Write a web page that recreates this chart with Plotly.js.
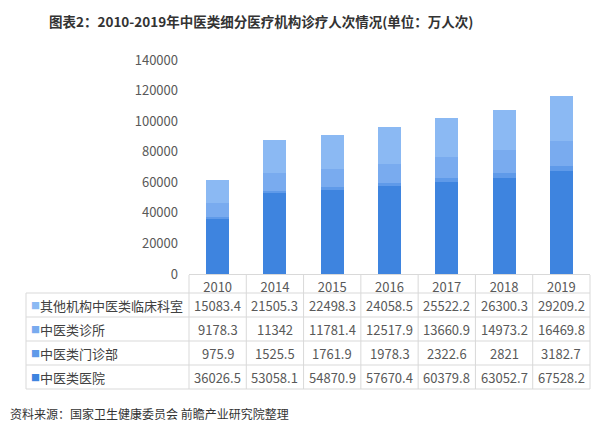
<!DOCTYPE html>
<html>
<head>
<meta charset="utf-8">
<script src="https://cdn.plot.ly/plotly-3.0.1.min.js"></script>
<style>html,body{margin:0;padding:0;background:#fff;}#chart{width:600px;height:434px;}</style>
</head>
<body>
<div id="chart"></div>
<script>
const years = ['2010','2014','2015','2016','2017','2018','2019'];
const seriesNames = ['其他机构中医类临床科室','中医类诊所','中医类门诊部','中医类医院'];
const other = [15083.4, 21505.3, 22498.3, 24058.5, 25522.2, 26300.3, 29209.2];
const clinic = [9178.3, 11342, 11781.4, 12517.9, 13660.9, 14973.2, 16469.8];
const outpatient = [975.9, 1525.5, 1761.9, 1978.3, 2322.6, 2821, 3182.7];
const hospital = [36026.5, 53058.1, 54870.9, 57670.4, 60379.8, 63052.7, 67528.2];
const valueLabels = [
  ['15083.4','21505.3','22498.3','24058.5','25522.2','26300.3','29209.2'],
  ['9178.3','11342','11781.4','12517.9','13660.9','14973.2','16469.8'],
  ['975.9','1525.5','1761.9','1978.3','2322.6','2821','3182.7'],
  ['36026.5','53058.1','54870.9','57670.4','60379.8','63052.7','67528.2']
];
const colors = ['#8bb9f3','#79abef','#5f9ae9','#3e84df'];

// layout geometry (pixels)
const W = 600, H = 434;
const mL = 189, mR = 10, mT = 60, mB = 160;
const pw = W - mL - mR, ph = H - mT - mB;
const px2x = p => (p - mL) / pw;
const py2y = p => (H - mB - p) / ph;
const idx = years.map((_, i) => i);

const stackOrder = [
  {name: seriesNames[3], y: hospital, c: colors[3]},
  {name: seriesNames[2], y: outpatient, c: colors[2]},
  {name: seriesNames[1], y: clinic, c: colors[1]},
  {name: seriesNames[0], y: other, c: colors[0]}
];
const traces = stackOrder.map(s => ({
  type: 'bar', x: idx, y: s.y, name: s.name, width: 0.4,
  marker: {color: s.c, line: {width: 0}}, hoverinfo: 'y+name'
}));

const lineCol = '#d9d9d9';
const shapes = [];
const rowLines = [293, 317, 341, 365, 389];
rowLines.forEach(p => shapes.push({type:'line', xref:'paper', yref:'paper',
  x0: px2x(26), x1: px2x(590), y0: py2y(p), y1: py2y(p), line:{color:lineCol, width:1}}));
shapes.push({type:'line', xref:'paper', yref:'paper', x0: px2x(26), x1: px2x(26),
  y0: py2y(293), y1: py2y(389), line:{color:lineCol, width:1}});
for (let i = 0; i <= years.length; i++) {
  const xp = i / years.length;
  shapes.push({type:'line', xref:'paper', yref:'paper', x0: xp, x1: xp,
    y0: py2y(275), y1: py2y(389), line:{color:lineCol, width:1}});
}

const annotations = [];
const rowCenters = [305, 329, 353, 377];
seriesNames.forEach((n, r) => {
  annotations.push({xref:'paper', yref:'paper', x: px2x(29), y: py2y(rowCenters[r]),
    xanchor:'left', yanchor:'middle', showarrow:false, text:'■',
    font:{size:9, color: colors[r]}});
  annotations.push({xref:'paper', yref:'paper', x: px2x(38), y: py2y(rowCenters[r]),
    xanchor:'left', yanchor:'middle', showarrow:false, text:n,
    font:{size:13, color:'#404040'}});
  idx.forEach(c => {
    annotations.push({xref:'x', yref:'paper', x: c, y: py2y(rowCenters[r]),
      xanchor:'center', yanchor:'middle', showarrow:false, text: valueLabels[r][c],
      font:{size:13, color:'#595959'}});
  });
});
annotations.push({xref:'paper', yref:'paper', x: px2x(8), y: py2y(413),
  xanchor:'left', yanchor:'middle', showarrow:false,
  text:'资料来源：国家卫生健康委员会 前瞻产业研究院整理',
  font:{size:12, color:'#333333'}});

const layout = {
  width: W, height: H,
  margin: {l: mL, r: mR, t: mT, b: mB, pad: 0},
  paper_bgcolor: '#ffffff', plot_bgcolor: '#ffffff',
  font: {family: '"Noto Sans CJK SC", "Noto Sans", sans-serif', color: '#595959'},
  title: {text: '<b>图表2：2010-2019年中医类细分医疗机构诊疗人次情况(单位：万人次)</b>',
    x: 49 / W, xref: 'container', xanchor: 'left', y: 1 - 22 / H, yanchor: 'middle',
    font: {size: 13.5, color: '#333333', family: '"Noto Sans CJK SC", sans-serif'}},
  barmode: 'stack',
  showlegend: false,
  xaxis: {range: [-0.5, 6.5], tickmode: 'array', tickvals: idx, ticktext: years,
    showgrid: false, zeroline: false, showline: true, linecolor: '#d9d9d9',
    ticks: '', tickfont: {size: 13, color: '#595959'}, ticklabelstandoff: 1, fixedrange: true},
  yaxis: {range: [0, 140000], dtick: 20000, showgrid: false, zeroline: false,
    showline: false, ticks: '', tickfont: {size: 13, color: '#595959'},
    ticklabelstandoff: 10, tickformat: 'd', fixedrange: true},
  shapes: shapes, annotations: annotations
};
Plotly.newPlot('chart', traces, layout, {displayModeBar: false, staticPlot: true});
</script>
</body>
</html>
